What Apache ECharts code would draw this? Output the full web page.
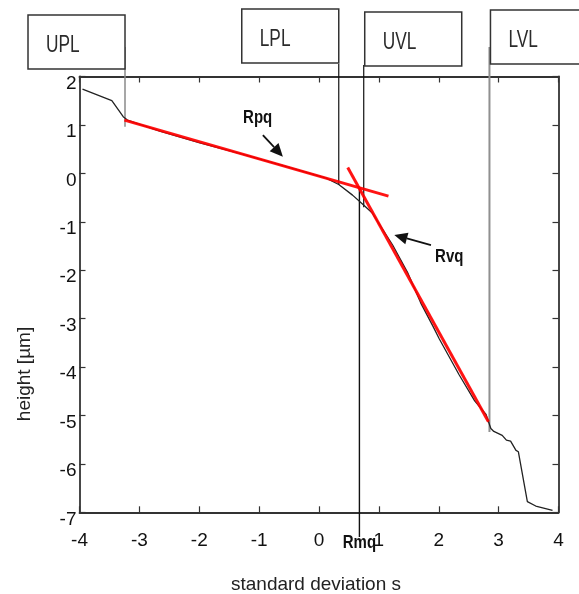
<!DOCTYPE html>
<html>
<head>
<meta charset="utf-8">
<title>Abbott curve</title>
<script src="https://cdn.jsdelivr.net/npm/echarts@6.0.0/dist/echarts.min.js"></script>
<style>
    html, body { margin: 0; padding: 0; background: #fff; }
    #chart { width: 579px; height: 594px; }
</style>
</head>
<body>
<div id="chart"></div>
<script type="text/javascript">

    // material ratio curve (standard deviation s / height in µm)
    var curveS = [-3.95, -3.46, -3.35, -3.27, -3.20, -2.66, -1.99, -1.30, -0.60, 0.12, 0.33, 0.56, 0.74, 0.89,
                  1.23, 1.48, 1.70, 1.90, 2.01, 2.34, 2.60, 2.79, 2.87, 2.92, 3.06, 3.13, 3.20, 3.29, 3.33, 3.48, 3.62, 3.90];
    var curveH = [1.74, 1.50, 1.31, 1.17, 1.10, 0.87, 0.63, 0.40, 0.16, -0.10, -0.23, -0.45, -0.65, -0.82,
                  -1.48, -2.05, -2.68, -3.15, -3.42, -4.16, -4.70, -4.98, -5.27, -5.33, -5.41, -5.51, -5.53, -5.72, -5.75, -6.78, -6.87, -6.96];

    // fitted lines (start, end)
    var rpqS = [-3.25, 1.16];
    var rpqH = [1.10, -0.47];
    var rvqS = [0.48, 2.83];
    var rvqH = [0.12, -5.13];

    // limit lines
    var limitNames = ['UPL', 'LPL', 'UVL', 'LVL'];
    var limitS = [-3.24, 0.33, 0.747, 2.847];
    var limitTop = [2.61, 2.26, 2.24, 2.61];
    var limitBottom = [0.96, -0.24, -0.70, -5.34];
    var rmqS = 0.675;
    var rmqTop = -0.30;
    var rmqBottom = -7.51;

    var xTicks = [-4, -3, -2, -1, 0, 1, 2, 3, 4];
    var yTicks = [2, 1, 0, -1, -2, -3, -4, -5, -6, -7];

    function pairs(xs, ys) {
        var out = [];
        for (var i = 0; i < xs.length; i++) out.push([xs[i], ys[i]]);
        return out;
    }

    var axisColor = '#333';
    var font = 'Arial, "Liberation Sans", sans-serif';

    var series = [];
    // limit lines
    var limitColors = ['#8a8a8a', '#111', '#111', '#909090'];
    var limitWidths = [1.5, 1.2, 1.2, 2];
    for (var i = 0; i < limitNames.length; i++) {
        series.push({
            name: limitNames[i],
            type: 'line',
            clip: false,
            silent: true,
            showSymbol: false,
            lineStyle: { color: limitColors[i], width: limitWidths[i] },
            data: [[limitS[i], limitTop[i]], [limitS[i], limitBottom[i]]]
        });
    }
    series.push({
        name: 'Rmq',
        type: 'line',
        clip: false,
        silent: true,
        showSymbol: false,
        lineStyle: { color: '#111', width: 1.4 },
        data: [[rmqS, rmqTop], [rmqS, rmqBottom]]
    });
    series.push({
        name: 'curve',
        type: 'line',
        showSymbol: false,
        silent: true,
        lineStyle: { color: '#222', width: 1.3 },
        data: pairs(curveS, curveH)
    });
    series.push({
        name: 'Rpq',
        type: 'line',
        showSymbol: false,
        silent: true,
        lineStyle: { color: 'rgba(255,0,0,0.92)', width: 3 },
        data: pairs(rpqS, rpqH)
    });
    series.push({
        name: 'Rvq',
        type: 'line',
        showSymbol: false,
        silent: true,
        lineStyle: { color: 'rgba(255,0,0,0.92)', width: 3 },
        data: pairs(rvqS, rvqH)
    });

    var tickStyle = { show: true, inside: true, length: 6, lineStyle: { color: axisColor, width: 1.2 } };
    var lineStyle = { show: true, onZero: false, lineStyle: { color: axisColor, width: 1.8 } };

    var myChart = echarts.init(document.getElementById('chart'));
    var option = {
        animation: false,
        backgroundColor: '#fff',
        grid: { left: 79.5, right: 20.5, top: 76.5, bottom: 81.7 },
        xAxis: [{
            type: 'value',
            min: xTicks[0],
            max: xTicks[xTicks.length - 1],
            interval: 1,
            axisLine: lineStyle,
            axisTick: tickStyle,
            splitLine: { show: false },
            axisLabel: { fontSize: 19, color: '#111', fontFamily: font, margin: 19 }
        }, {
            type: 'value',
            position: 'top',
            min: xTicks[0],
            max: xTicks[xTicks.length - 1],
            interval: 1,
            axisLine: lineStyle,
            axisTick: tickStyle,
            splitLine: { show: false },
            axisLabel: { show: false }
        }],
        yAxis: [{
            type: 'value',
            min: yTicks[yTicks.length - 1],
            max: yTicks[0],
            interval: 1,
            axisLine: lineStyle,
            axisTick: tickStyle,
            splitLine: { show: false },
            axisLabel: { fontSize: 19, color: '#111', fontFamily: font, margin: 3, verticalAlign: 'top', lineHeight: 14 }
        }, {
            type: 'value',
            position: 'right',
            min: yTicks[yTicks.length - 1],
            max: yTicks[0],
            interval: 1,
            axisLine: lineStyle,
            axisTick: tickStyle,
            splitLine: { show: false },
            axisLabel: { show: false }
        }],
        series: series
    };
    myChart.setOption(option);

    // boxes, labels and arrows placed from data coordinates
    function px(s, h) { return myChart.convertToPixel({ gridIndex: 0 }, [s, h]); }

    var boxTop = [15, 9, 12, 10];
    var boxSide = ['left', 'left', 'right', 'right'];
    var boxW = 97, boxH = 54;
    var graphics = [];
    for (var j = 0; j < limitNames.length; j++) {
        var lx = px(limitS[j], 0)[0];
        var bx = boxSide[j] === 'left' ? lx - boxW : lx + 1;
        graphics.push({
            type: 'rect',
            shape: { x: bx, y: boxTop[j], width: boxW, height: boxH },
            style: { fill: '#fff', stroke: '#333', lineWidth: 1.5 },
            z: 10
        });
        graphics.push({
            type: 'text',
            x: bx + 18, y: boxTop[j] + boxH / 2 + 3,
            scaleX: 0.72,
            style: {
                text: limitNames[j], fill: '#2b2b2b', font: '24px Arial, "Liberation Sans", sans-serif',
                textVerticalAlign: 'middle', textAlign: 'left'
            },
            z: 11
        });
    }

    function arrow(from, to) {
        var a = px(from[0], from[1]), b = px(to[0], to[1]);
        var dx = b[0] - a[0], dy = b[1] - a[1];
        var len = Math.sqrt(dx * dx + dy * dy);
        var ux = dx / len, uy = dy / len;
        var hl = 13, hw = 6;
        var base = [b[0] - ux * hl, b[1] - uy * hl];
        graphics.push({
            type: 'line',
            shape: { x1: a[0], y1: a[1], x2: base[0], y2: base[1] },
            style: { stroke: '#111', lineWidth: 1.8 },
            z: 12
        });
        graphics.push({
            type: 'polygon',
            shape: { points: [b, [base[0] - uy * hw, base[1] + ux * hw], [base[0] + uy * hw, base[1] - ux * hw]] },
            style: { fill: '#111' },
            z: 12
        });
    }

    function label(text, s, h) {
        var p = px(s, h);
        graphics.push({
            type: 'text',
            x: p[0], y: p[1],
            scaleY: 1.18,
            style: {
                text: text, fill: '#111', font: 'bold 15px Arial, "Liberation Sans", sans-serif',
                textAlign: 'center', textVerticalAlign: 'middle'
            },
            z: 12
        });
    }

    label('Rpq', -1.025, 1.143);
    arrow([-0.937, 0.791], [-0.603, 0.343]);
    label('Rvq', 2.175, -1.723);
    arrow([1.87, -1.48], [1.258, -1.275]);
    label('Rmq', rmqS, -7.64);

    graphics.push({
        type: 'text',
        x: 316, y: 585,
        style: { text: 'standard deviation s', fill: '#222', font: '19px Arial, "Liberation Sans", sans-serif',
                 textAlign: 'center', textVerticalAlign: 'middle' }
    });
    graphics.push({
        type: 'text',
        x: 25, y: 374,
        rotation: Math.PI / 2,
        style: { text: 'height [µm]', fill: '#222', font: '19px Arial, "Liberation Sans", sans-serif',
                 textAlign: 'center', textVerticalAlign: 'middle' }
    });

    myChart.setOption({ graphic: graphics });
</script>
</body>
</html>
